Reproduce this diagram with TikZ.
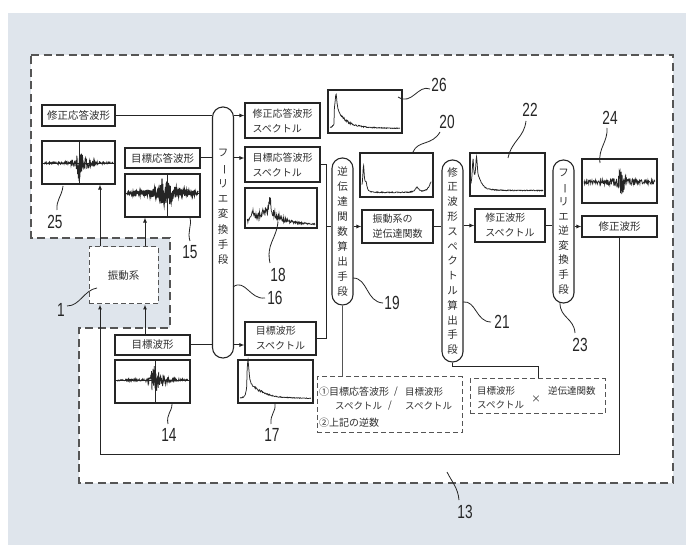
\documentclass[tikz,border=0pt]{standalone}
\usepackage{fontspec}
\usepackage{graphicx}
\newfontfamily\jp{Noto Sans CJK JP}
\newfontfamily\numf[FakeStretch=0.72]{Liberation Sans}
\newcommand\chouon{\rotatebox[origin=c]{-90}{ー}}
\usetikzlibrary{arrows.meta}
\definecolor{bgblue}{HTML}{DFE5EC}
\definecolor{ink}{HTML}{252525}
\definecolor{txt}{HTML}{2E2E2E}
\definecolor{dashc}{HTML}{555555}
\begin{document}
\begin{tikzpicture}[x=1pt,y=-1pt,
 box/.style={draw=ink, line width=1.1pt, inner sep=0pt, font=\jp\fontsize{10}{15}\selectfont, text=txt, align=left},
 box1/.style={box, font=\jp\fontsize{10.5}{12}\selectfont},
 oval/.style={draw=ink, line width=1.1pt, rounded corners=10.3pt, minimum width=21pt, inner sep=0pt, font=\jp\fontsize{10.5}{15}\selectfont, text=txt, align=center},
 vtxt/.style={inner sep=0pt, font=\jp\fontsize{10.5}{15.3}\selectfont, text=txt, align=center},
 plotbox/.style={draw=ink, line width=1.1pt, inner sep=0pt},
 conn/.style={draw=ink, line width=1pt},
 arr/.style={conn, -{Latex[length=5pt,width=4pt]}},
 lab/.style={font=\numf\fontsize{19}{19}\selectfont, text=ink, inner sep=0pt},
 lead/.style={draw=ink, line width=0.8pt},
 sig/.style={draw=ink, line width=0.75pt},
 axis/.style={draw=ink, line width=0.8pt},
 dbox/.style={draw=dashc, line width=1pt, dash pattern=on 5pt off 3pt, inner sep=0pt},
 ftxt/.style={inner sep=0pt, font=\jp\fontsize{9.5}{11}\selectfont, text=txt},
 outer/.style={draw=dashc, line width=1.2pt, dash pattern=on 8pt off 4.5pt}]
\pgfmathsetseed{12}
\useasboundingbox (0,0) rectangle (686,545);
% background
\fill[white] (0,0) rectangle (686,545);
\fill[bgblue] (8,13) rectangle (686,545);
\fill[white] (31,55) -- (673,55) -- (673,483) -- (79,483) -- (79,328) -- (170,328) -- (170,238) -- (31,238) -- cycle;
\draw[outer] (31,55) -- (673,55) -- (673,483) -- (79,483) -- (79,328) -- (170,328) -- (170,238) -- (31,238) -- cycle;

% left column
\node[box1, minimum width=73pt, minimum height=21pt] (hoa) at (78.5,115.5) {修正応答波形};
\node[plotbox, minimum width=73pt, minimum height=43pt] (w25) at (78.5,162.5) {};
\node[box1, minimum width=75pt, minimum height=20pt] (mot) at (162.5,158) {目標応答波形};
\node[plotbox, minimum width=75pt, minimum height=43pt] (w15) at (162.5,195.5) {};
\node[box1, fill=white, draw=dashc, dash pattern=on 5pt off 3pt, line width=1pt, minimum width=69pt, minimum height=57pt] (sd) at (123.5,275.5) {振動系};
\node[box1, minimum width=75pt, minimum height=20pt] (mok) at (152.5,345) {目標波形};
\node[plotbox, minimum width=75pt, minimum height=43pt] (w14) at (152.5,381.5) {};

% Fourier transform
\node[oval, minimum height=251pt] (o16) at (223,232.5) {};
\node[vtxt] (t16) at (223,207) {フ\\\chouon\\リ\\エ\\変\\換\\手\\段};

% spectra column
\node[box, minimum width=75pt, minimum height=35pt] (sho) at (282.5,120.5) {修正応答波形\\スペクトル};
\node[box, minimum width=75pt, minimum height=35pt] (smo) at (282.5,164.5) {目標応答波形\\スペクトル};
\node[plotbox, minimum width=72pt, minimum height=40pt] (sp18) at (281,208) {};
\node[plotbox, minimum width=74pt, minimum height=43pt] (sp26) at (365,111.5) {};
\node[box, minimum width=71pt, minimum height=33pt] (smk) at (280.5,338.5) {目標波形\\スペクトル};
\node[plotbox, minimum width=75pt, minimum height=43pt] (sp17) at (275.5,381.5) {};

% inverse transfer function
\node[oval, minimum height=147pt] (o19) at (342.5,231.5) {逆\\伝\\達\\関\\数\\算\\出\\手\\段};
\node[plotbox, minimum width=73pt, minimum height=44pt] (sp20) at (396.5,175) {};
\node[box, minimum width=71pt, minimum height=33pt] (gy) at (397.5,226.5) {振動系の\\逆伝達関数};

% corrected spectrum
\node[oval, minimum height=202pt, font=\jp\fontsize{10.5}{14.8}\selectfont] (o21) at (452.5,261) {修\\正\\波\\形\\ス\\ペ\\ク\\ト\\ル\\算\\出\\手\\段};
\node[plotbox, minimum width=75pt, minimum height=43pt] (sp22) at (507.5,174.5) {};
\node[box, minimum width=70pt, minimum height=33pt] (sh) at (510,225.5) {修正波形\\スペクトル};

% inverse Fourier
\node[oval, minimum height=143pt, font=\jp\fontsize{10.5}{14.6}\selectfont] (o23) at (563.5,231.5) {フ\\\chouon\\リ\\エ\\逆\\変\\換\\手\\段};
\node[plotbox, minimum width=75pt, minimum height=44pt] (w24) at (619.5,181) {};
\node[box1, minimum width=75pt, minimum height=21pt] (hs) at (619.5,226.5) {修正波形};

% formula boxes
\node[dbox, minimum width=145pt, minimum height=56pt] (f1) at (389.5,405) {};
\node[ftxt, anchor=west, font=\jp\fontsize{10}{11}\selectfont] (f1a) at (319,392) {①目標応答波形};
\node[ftxt] (f1s1) at (396,392) {/};
\node[ftxt, anchor=west] (f1b) at (405,392) {目標波形};
\node[ftxt, anchor=west] (f1c) at (335,406) {スペクトル};
\node[ftxt] (f1s2) at (390,406) {/};
\node[ftxt, anchor=west] (f1d) at (405,406) {スペクトル};
\node[ftxt, anchor=west, font=\jp\fontsize{10}{11}\selectfont] (f1e) at (319,423) {②上記の逆数};
\node[dbox, minimum width=135pt, minimum height=35pt] (f2) at (537.5,396.5) {};
\node[ftxt, anchor=west] (f2a) at (477,391) {目標波形};
\node[ftxt, anchor=west] (f2b) at (477,405) {スペクトル};
\node[ftxt] (f2x) at (536,399) {×};
\node[ftxt, anchor=west] (f2c) at (548,391) {逆伝達関数};

% connectors
\coordinate (jx) at (326,0);
\coordinate (xa) at (145,0);
\coordinate (fb) at (100,455);
\coordinate (f2j) at (538,367);
\draw[conn] (hoa.east) -- (hoa.east -| o16.west);
\draw[arr] (hoa.east -| o16.east) -- (hoa.east -| sho.west);
\draw[conn] (mot.east) -- (mot.east -| o16.west);
\draw[arr] (mot.east -| o16.east) -- (mot.east -| smo.west);
\draw[conn] (mok.east) -- (mok.east -| o16.west);
\draw[arr] (mok.east -| o16.east) -- (mok.east -| smk.west);
\draw[conn] (smo.east) -- (smo.east -| jx) -- (smk.east -| jx) -- (smk.east);
\draw[conn] (gy.west -| jx) -- (gy.west -| o19.west);
\draw[arr] (gy.west -| o19.east) -- (gy.west);
\draw[conn] (gy.east) -- (gy.east -| o21.west);
\draw[arr] (sh.west -| o21.east) -- (sh.west);
\draw[conn] (sh.east) -- (sh.east -| o23.west);
\draw[arr] (hs.west -| o23.east) -- (hs.west);
\draw[arr] (hs.south) |- (fb) -- (fb |- sd.south);
\draw[arr] (mok.north -| xa) -- (sd.south -| xa);
\draw[arr] (sd.north -| fb) -- (w25.south -| fb);
\draw[arr] (sd.north -| xa) -- (w15.south -| xa);
\draw[conn, line width=0.8pt, draw=dashc] (o19.south) -- (o19.south |- f1.north);
\draw[conn] (o21.south) |- (f2j) -- (f2j |- f2.north);

% waveforms
\draw[axis] (w25.west |- 0,163) -- (w25.east |- 0,163);
\draw[axis] (79,0 |- w25.north) -- (79,0 |- w25.south);
\draw[sig] plot[domain=44:113,samples=180] (\x,{163+(0.8+17/(1+((\x-79)/2)^2)+5/(1+((\x-85)/5)^2))*rand});
\draw[axis] (w15.west |- 0,193) -- (w15.east |- 0,193);
\draw[axis] (167,0 |- w15.north) -- (167,0 |- w15.south);
\draw[sig, line width=1.2pt] plot[domain=127:198,samples=200] (\x,{193+(1.5+12/(1+((\x-163)/6)^2)+5/(1+((\x-172)/6)^2))*rand});
\draw[axis] (w14.west |- 0,380) -- (w14.east |- 0,380);
\draw[axis] (155,0 |- w14.north) -- (155,0 |- w14.south);
\draw[sig] plot[domain=117:188,samples=180] (\x,{380+(0.8+16/(1+((\x-154)/2)^2)+6/(1+((\x-160)/6)^2))*rand});
\draw[sig] plot[domain=584:655,samples=180] (\x,{182+(1.8+13/(1+((\x-621)/4)^2))*rand});

% spectra
\draw[sig] plot[domain=330:400,samples=160] (\x,{129-20/(1+((\x-336)/1.2)^2)-(\x>334)*14/(1+((\x-336)/10)^2)-(0.6+2/(1+((\x-345)/12)^2))*abs(rand)});
\draw[sig] plot[domain=247:315,samples=160] (\x,{226-(1+18/(1+((\x-268)/14)^2))*(0.45+0.55*abs(rand))-14/(1+((\x-270)/1)^2)-7/(1+((\x-253)/1.5)^2)});
\draw[sig] plot[domain=240:311,samples=160] (\x,{399-26/(1+((\x-248)/1.2)^2)-(\x>247)*12/(1+((\x-249)/12)^2)-(0.5+2/(1+((\x-262)/10)^2))*abs(rand)});
\draw[sig] plot[domain=362:431,samples=170] (\x,{193-26/(1+((\x-363.5)/0.9)^2)-8/(1+((\x-366)/1.2)^2)-5/(1+((\x-417)/2)^2)-12/(1+((\x-432)/3)^2)-0.9*abs(rand)});
\draw[sig] plot[domain=471:543,samples=170] (\x,{191-27/(1+((\x-473)/0.9)^2)-26/(1+((\x-476.5)/1)^2)-9/(1+((\x-479)/4)^2)-0.9*abs(rand)});

% labels
\node[lab] (l26) at (439,85) {26};
\node[lab] (l20) at (447,122) {20};
\node[lab] (l22) at (530,110) {22};
\node[lab] (l24) at (610,118) {24};
\node[lab] (l25) at (55,222) {25};
\node[lab] (l15) at (190,252) {15};
\node[lab] (l18) at (278,275) {18};
\node[lab] (l16) at (275,298) {16};
\node[lab] (l19) at (392,303) {19};
\node[lab] (l21) at (502,322) {21};
\node[lab] (l23) at (580,345) {23};
\node[lab] (l1) at (61,310) {1};
\node[lab] (l14) at (169,435) {14};
\node[lab] (l17) at (272,435) {17};
\node[lab] (l13) at (465,512) {13};
\draw[lead] (398,97) .. controls (412,106) and (418,84) .. (430,89);
\draw[lead] (413,152) .. controls (418,140) and (432,146) .. (440,132);
\draw[lead] (508,158) .. controls (512,140) and (524,138) .. (526,121);
\draw[lead] (600,163) .. controls (598,148) and (608,142) .. (607,128);
\draw[lead] (63,186) .. controls (62,196) and (56,200) .. (57,210);
\draw[lead] (190,218) .. controls (192,226) and (187,232) .. (190,241);
\draw[lead] (172,404) .. controls (172,412) and (166,414) .. (168,424);
\draw[lead] (275,404) .. controls (276,412) and (270,414) .. (271,424);
\draw[lead] (278,222) .. controls (276,240) and (266,244) .. (270,263);
\draw[lead] (233,287) .. controls (245,278) and (250,300) .. (265,298);
\draw[lead] (353,278) .. controls (368,278) and (366,302) .. (383,303);
\draw[lead] (463,302) .. controls (476,300) and (476,322) .. (491,322);
\draw[lead] (560,303) .. controls (560,318) and (574,318) .. (575,333);
\draw[lead] (97,288) .. controls (84,290) and (80,306) .. (67,306);
\draw[lead] (447,472) .. controls (452,482) and (458,488) .. (459,500);
\end{tikzpicture}
\end{document}
